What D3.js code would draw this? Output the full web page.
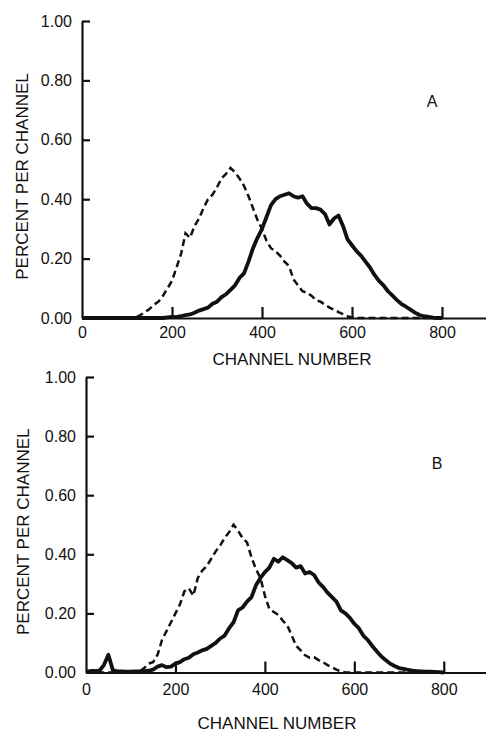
<!DOCTYPE html>
<html>
<head>
<meta charset="utf-8">
<script src="https://cdn.jsdelivr.net/npm/d3@7"></script>
<style>
  body { margin: 0; background: #fff; }
  svg { display: block; font-family: "Liberation Sans", Arial, sans-serif; }
  .axis path, .axis line { stroke: #111; stroke-width: 2.2; }
  .axis text { font-size: 16px; fill: #111; }
  .title { font-size: 17px; fill: #111; }
  .line-solid { fill: none; stroke: #111; stroke-width: 3.8; stroke-linejoin: round; }
  .line-dash { fill: none; stroke: #111; stroke-width: 2.5; stroke-dasharray: 7,4; }
</style>
</head>
<body>
<svg id="chart" width="486" height="732"></svg>
<script>
// channel grid, every 10 channels from 0 to 800
var channels = d3.range(0, 810, 10);

var xTicks = [0, 200, 400, 600, 800];
var yTicks = [0, 0.2, 0.4, 0.6, 0.8, 1.0];

// panel A
var a_dashed = [0,0,0,0,0,0,0,0,0,0,0,0,0.002,0.01,0.02,0.03,0.045,0.055,0.075,0.10,
  0.125,0.17,0.215,0.285,0.27,0.31,0.335,0.37,0.40,0.415,0.44,0.47,0.485,0.505,0.49,0.47,0.445,0.41,0.37,0.33,
  0.30,0.26,0.235,0.225,0.21,0.19,0.175,0.13,0.11,0.09,0.085,0.075,0.06,0.055,0.045,0.035,0.028,0.02,0.013,0.006,
  0.002,0,0,0,0,0,0,0,0,0,0,0,0,0,0,0,0,0,0,0,0];
var a_solid = [0,0,0,0,0,0,0,0,0,0,0,0,0,0,0,0,0,0,0,0.002,
  0.004,0.003,0.006,0.01,0.012,0.018,0.025,0.03,0.035,0.048,0.055,0.07,0.08,0.095,0.11,0.135,0.15,0.19,0.235,0.27,
  0.30,0.34,0.38,0.40,0.41,0.415,0.42,0.41,0.405,0.41,0.385,0.37,0.37,0.365,0.35,0.315,0.335,0.345,0.31,0.265,
  0.245,0.225,0.21,0.19,0.17,0.145,0.125,0.11,0.09,0.075,0.06,0.047,0.038,0.028,0.018,0.01,0.006,0.004,0.001,0,0];

// panel B
var b_dashed = [0,0,0,0,0,0,0,0,0,0,0,0,0.003,0.015,0.03,0.035,0.06,0.11,0.14,0.17,
  0.20,0.23,0.275,0.285,0.26,0.32,0.345,0.36,0.385,0.41,0.43,0.455,0.475,0.50,0.48,0.455,0.44,0.39,0.35,0.32,
  0.26,0.215,0.205,0.195,0.175,0.16,0.125,0.09,0.075,0.058,0.05,0.052,0.042,0.035,0.025,0.018,0.01,0.003,0,0,
  0,0,0,0,0,0,0,0,0,0,0,0,0,0,0,0,0,0,0,0,0];
var b_solid = [0.003,0.005,0.005,0.006,0.025,0.06,0.008,0.004,0.004,0.003,0.003,0.004,0.004,0.005,0.006,0.01,0.02,0.025,0.018,0.02,
  0.03,0.035,0.045,0.05,0.062,0.068,0.075,0.08,0.09,0.10,0.115,0.125,0.15,0.17,0.21,0.22,0.24,0.255,0.295,0.32,
  0.34,0.355,0.385,0.375,0.39,0.38,0.37,0.355,0.36,0.335,0.34,0.33,0.305,0.29,0.27,0.255,0.24,0.21,0.20,0.185,
  0.165,0.15,0.125,0.11,0.09,0.072,0.055,0.042,0.03,0.022,0.015,0.012,0.009,0.006,0.005,0.004,0.003,0.003,0.002,0.001,0];

var svg = d3.select("#chart");

var panels = [
  {label: "A", dashed: a_dashed, solid: a_solid, x0: 82, x1: 487, y0: 318, y1: 21,
   pad: 9, titleY: 365, titleX: 292, yTitleX: 22, markX: 432, markY: 107},
  {label: "B", dashed: b_dashed, solid: b_solid, x0: 86, x1: 488.5, y0: 672.5, y1: 377,
   pad: 11, titleY: 729, titleX: 277, yTitleX: 23, markX: 437, markY: 469}
];

panels.forEach(function (p) {
  var x = d3.scaleLinear().domain([0, 900]).range([p.x0, p.x1]);
  var y = d3.scaleLinear().domain([0, 1]).range([p.y0, p.y1]);

  var line = d3.line()
    .x(function (d, i) { return x(channels[i]); })
    .y(function (d) { return y(d); });

  svg.append("path").datum(p.dashed).attr("class", "line-dash").attr("d", line);
  svg.append("path").datum(p.solid).attr("class", "line-solid").attr("d", line);

  svg.append("g")
    .attr("class", "axis")
    .attr("transform", "translate(0," + p.y0 + ")")
    .call(d3.axisBottom(x).tickValues(xTicks).tickSizeInner(-11).tickSizeOuter(0).tickPadding(p.pad))
    .call(function (g) { g.selectAll(".tick").filter(function (d) { return d === 0; }).select("line").remove(); });

  svg.append("g")
    .attr("class", "axis")
    .attr("transform", "translate(" + p.x0 + ",0)")
    .call(d3.axisLeft(y).tickValues(yTicks).tickFormat(d3.format(".2f")).tickSizeInner(-8).tickSizeOuter(0).tickPadding(10))
    .call(function (g) { g.selectAll(".tick").filter(function (d) { return d === 0; }).select("line").remove(); });

  svg.selectAll(".axis .domain").attr("fill", "none");

  svg.append("text")
    .attr("class", "title")
    .attr("x", p.titleX).attr("y", p.titleY)
    .attr("text-anchor", "middle")
    .text("CHANNEL NUMBER");

  svg.append("text")
    .attr("class", "title")
    .attr("transform", "translate(" + (p.yTitleX + 6) + "," + ((p.y0 + p.y1) / 2 + 7) + ") rotate(-90)")
    .attr("text-anchor", "middle")
    .text("PERCENT PER CHANNEL");

  svg.append("text")
    .attr("class", "title")
    .attr("x", p.markX).attr("y", p.markY)
    .attr("text-anchor", "middle")
    .style("font-size", "16px")
    .text(p.label);
});
</script>
</body>
</html>
